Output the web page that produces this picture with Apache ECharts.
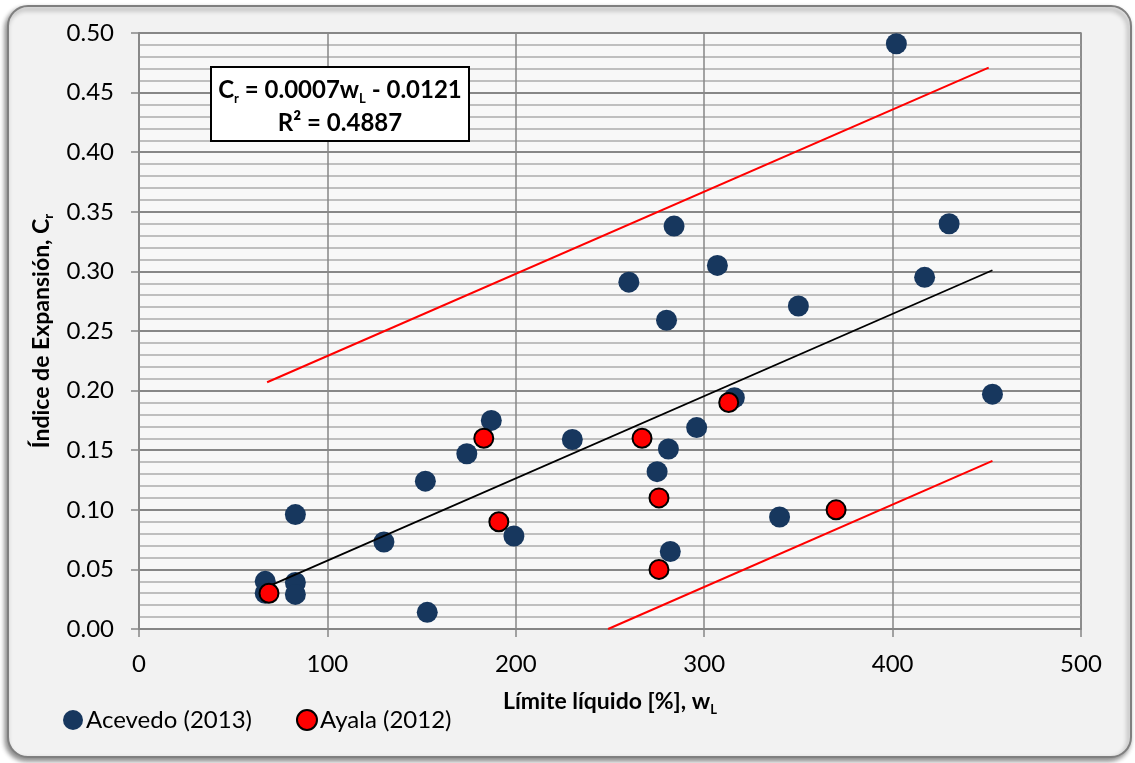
<!DOCTYPE html>
<html>
<head>
<meta charset="utf-8">
<script src="https://cdn.jsdelivr.net/npm/echarts@6/dist/echarts.min.js"></script>
<style>
html,body{margin:0;padding:0;background:#ffffff;}
#chart{width:1135px;height:763px;}
</style>
</head>
<body>
<div id="chart"></div>
<script>
// ---- data ----
const acevedoX = [402, 430, 284, 307, 417, 260, 350, 280, 453, 316, 296, 187, 230, 281, 174, 275, 152, 83, 340, 130, 199, 282, 67, 67, 83, 83, 153];
const acevedoY = [0.491, 0.340, 0.338, 0.305, 0.295, 0.291, 0.271, 0.259, 0.197, 0.194, 0.169, 0.175, 0.159, 0.151, 0.147, 0.132, 0.124, 0.096, 0.094, 0.073, 0.078, 0.065, 0.040, 0.030, 0.039, 0.029, 0.014];
const ayalaX = [69, 183, 191, 267, 276, 276, 313, 370];
const ayalaY = [0.030, 0.160, 0.090, 0.160, 0.110, 0.050, 0.190, 0.100];
const trendX = [69, 453];
const trendY = [0.036, 0.301];
const upperX = [68, 451];
const upperY = [0.207, 0.471];
const lowerX = [249, 453];
const lowerY = [0.000, 0.141];
const xTicks = [0, 100, 200, 300, 400, 500];
const yTicks = [0.00, 0.05, 0.10, 0.15, 0.20, 0.25, 0.30, 0.35, 0.40, 0.45, 0.50];
const seriesNames = ['Acevedo (2013)', 'Ayala (2012)'];
const eqLine1 = ['C', 'r', ' = 0.0007w', 'L', ' - 0.0121'];
const eqLine2 = 'R² = 0.4887';

const zip = (xs, ys) => xs.map((x, i) => [x, ys[i]]);
const FONT = 'Lato';

const chart = echarts.init(document.getElementById('chart'), null, {renderer: 'canvas'});

const option = {
  backgroundColor: '#ffffff',
  animation: false,
  textStyle: {fontFamily: FONT},
  graphic: [
    {
      type: 'rect', z: -10, silent: true,
      shape: {x: 8, y: 6, width: 1123, height: 751, r: 20},
      style: {fill: '#f2f2f2', stroke: '#7f7f7f', lineWidth: 2,
        shadowBlur: 5, shadowOffsetX: -2, shadowOffsetY: 3, shadowColor: 'rgba(0,0,0,0.45)'}
    },
    {type: 'rect', z: 100, silent: true, shape: {x: 211, y: 67, width: 258, height: 74},
      style: {fill: '#ffffff', stroke: '#000000', lineWidth: 2}},
    {type: 'text', z: 101, silent: true, x: 340, y: 90,
      style: {
        text: '{m|' + eqLine1[0] + '}{s|' + eqLine1[1] + '}{m|' + eqLine1[2] + '}{s|' + eqLine1[3] + '}{m|' + eqLine1[4] + '}',
        align: 'center', verticalAlign: 'middle',
        rich: {
          m: {fontFamily: FONT, fontWeight: 'bold', fontSize: 24, lineHeight: 30, fill: '#000'},
          s: {fontFamily: FONT, fontWeight: 'bold', fontSize: 13, lineHeight: 13, verticalAlign: 'bottom', fill: '#000'}
        }
      }},
    {type: 'text', z: 101, silent: true, x: 340, y: 123,
      style: {text: eqLine2, align: 'center', verticalAlign: 'middle',
        fontFamily: FONT, fontWeight: 'bold', fontSize: 24, fill: '#000'}}
  ],
  grid: {
    left: 139, top: 33, width: 942, height: 596,
    show: true, backgroundColor: '#f8f8f8', borderColor: '#878787', borderWidth: 1.5,
    containLabel: false
  },
  legend: {
    left: 58, top: 703,
    itemWidth: 20, itemHeight: 20, itemGap: 44,
    icon: 'circle',
    textStyle: {fontFamily: FONT, fontSize: 24, color: '#000', padding: [0, 0, 0, -2]},
    data: seriesNames
  },
  xAxis: {
    type: 'value', min: xTicks[0], max: xTicks[xTicks.length - 1], interval: 100,
    name: '{b|Límite líquido [%], w}{s|L}',
    nameLocation: 'middle', nameGap: 59,
    nameTextStyle: {
      rich: {
        b: {fontFamily: FONT, fontWeight: 'bold', fontSize: 23, lineHeight: 28, color: '#000'},
        s: {fontFamily: FONT, fontWeight: 'bold', fontSize: 13, lineHeight: 13, verticalAlign: 'bottom', color: '#000'}
      }
    },
    axisLine: {show: true, lineStyle: {color: '#878787', width: 1.5}},
    axisTick: {show: true, length: 8, inside: false, lineStyle: {color: '#878787', width: 1.5}},
    axisLabel: {fontFamily: FONT, fontSize: 24, color: '#000', margin: 23},
    splitLine: {show: true, lineStyle: {color: '#878787', width: 1.5}}
  },
  yAxis: {
    type: 'value', min: yTicks[0], max: yTicks[yTicks.length - 1], interval: 0.05,
    name: '{b|Índice de Expansión, C}{s|r}',
    nameLocation: 'middle', nameGap: 79, nameRotate: 90,
    nameTextStyle: {
      rich: {
        b: {fontFamily: FONT, fontWeight: 'bold', fontSize: 23, lineHeight: 28, color: '#000'},
        s: {fontFamily: FONT, fontWeight: 'bold', fontSize: 13, lineHeight: 13, verticalAlign: 'bottom', color: '#000'}
      }
    },
    axisLine: {show: true, lineStyle: {color: '#878787', width: 1.5}},
    axisTick: {show: true, length: 8, inside: false, lineStyle: {color: '#878787', width: 1.5}},
    axisLabel: {fontFamily: FONT, fontSize: 24, color: '#000', margin: 25,
      formatter: v => v.toFixed(2)},
    splitLine: {show: true, lineStyle: {color: '#878787', width: 2}},
    minorTick: {show: false, splitNumber: 5},
    minorSplitLine: {show: true, lineStyle: {color: '#bfbfbf', width: 2}}
  },
  series: [
    {
      name: seriesNames[0], type: 'scatter', z: 3,
      symbol: 'circle', symbolSize: 21,
      itemStyle: {color: '#17375e', opacity: 1},
      data: zip(acevedoX, acevedoY)
    },
    {
      name: seriesNames[1], type: 'scatter', z: 5,
      symbol: 'circle', symbolSize: 19,
      itemStyle: {color: '#ff0000', borderColor: '#000000', borderWidth: 2, opacity: 1},
      data: zip(ayalaX, ayalaY)
    },
    {
      name: 'trend', type: 'line', z: 4, showSymbol: false, silent: true,
      lineStyle: {color: '#000000', width: 1.8},
      data: zip(trendX, trendY)
    },
    {
      name: 'upper', type: 'line', z: 4, showSymbol: false, silent: true,
      lineStyle: {color: '#ff0000', width: 2},
      data: zip(upperX, upperY)
    },
    {
      name: 'lower', type: 'line', z: 4, showSymbol: false, silent: true,
      lineStyle: {color: '#ff0000', width: 2},
      data: zip(lowerX, lowerY)
    }
  ]
};
chart.setOption(option);
</script>
</body>
</html>
